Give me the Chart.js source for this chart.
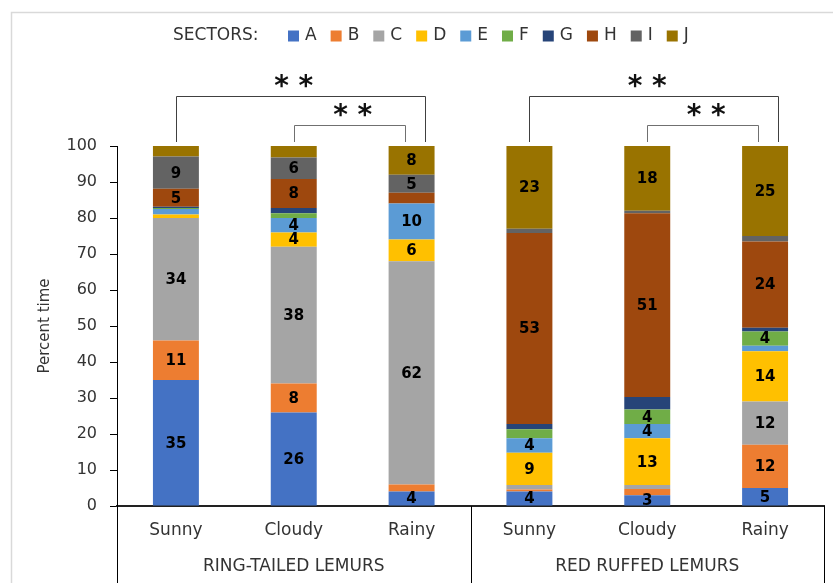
<!DOCTYPE html>
<html>
<head>
<meta charset="utf-8">
<script src="https://cdn.jsdelivr.net/npm/chart.js@4/dist/chart.umd.min.js"></script>
<style>
  html, body { margin: 0; padding: 0; background: #fff; }
  canvas { display: block; }
</style>
</head>
<body>
<canvas id="chart" width="833" height="583"></canvas>
<script>
// Weather condition for each bar, and the species group the bars belong to
const weather = ['Sunny', 'Cloudy', 'Rainy', 'Sunny', 'Cloudy', 'Rainy'];
const species = ['RING-TAILED LEMURS', 'RED RUFFED LEMURS'];
const speciesSpan = [[0, 2], [3, 5]];

// Percent of time spent in each enclosure sector (bars in the order above)
const sectorNames = ['A', 'B', 'C', 'D', 'E', 'F', 'G', 'H', 'I', 'J'];
const sectorA = [35, 26, 4, 4, 3, 5];
const sectorB = [11, 8, 2, 0.6, 1.7, 12];
const sectorC = [34, 38, 62, 1.2, 1.1, 12];
const sectorD = [1, 4, 6, 9, 13, 14];
const sectorE = [1.5, 4, 10, 4, 4, 1.5];
const sectorF = [0.3, 1.3, 0, 2.5, 4, 4];
const sectorG = [0.3, 1.5, 0, 1.5, 3.5, 1];
const sectorH = [5, 8, 3, 53, 51, 24];
const sectorI = [9, 6, 5, 1.2, 0.7, 1.5];
const sectorJ = [2.9, 3.2, 8, 23, 18, 25];

// Which segments carry a value label
const labelShown = {
  A: [1, 1, 1, 1, 1, 1],
  B: [1, 1, 0, 0, 0, 1],
  C: [1, 1, 1, 0, 0, 1],
  D: [0, 1, 1, 1, 1, 1],
  E: [0, 1, 1, 1, 1, 0],
  F: [0, 0, 0, 0, 1, 1],
  G: [0, 0, 0, 0, 0, 0],
  H: [1, 1, 0, 1, 1, 1],
  I: [1, 1, 1, 0, 0, 0],
  J: [0, 0, 1, 1, 1, 1]
};

// Y axis ticks
const yTicks = [0, 10, 20, 30, 40, 50, 60, 70, 80, 90, 100];

// Significance brackets between weather conditions
const comparisons = [
  { from: 0, to: 2, tier: 2, mark: '* *' },
  { from: 1, to: 2, tier: 1, mark: '* *' },
  { from: 3, to: 5, tier: 2, mark: '* *' },
  { from: 4, to: 5, tier: 1, mark: '* *' }
];

const sectorValues = [sectorA, sectorB, sectorC, sectorD, sectorE, sectorF, sectorG, sectorH, sectorI, sectorJ];
const sectorColors = ['#4472C4', '#ED7D31', '#A5A5A5', '#FFC000', '#5B9BD5',
                      '#70AD47', '#264478', '#9E480E', '#636363', '#997300'];

const FONT = '"DejaVu Sans", "Open Sans", sans-serif';
const TEXT = '#333333';

const frame = {
  id: 'frame',
  beforeDraw(chart) {
    const ctx = chart.ctx;
    ctx.save();
    ctx.fillStyle = '#fff';
    ctx.fillRect(0, 0, chart.width, chart.height);
    ctx.strokeStyle = '#d9d9d9';
    ctx.lineWidth = 1.5;
    ctx.beginPath();
    ctx.moveTo(11.5, chart.height);
    ctx.lineTo(11.5, 12.5);
    ctx.lineTo(chart.width, 12.5);
    ctx.stroke();
    ctx.restore();
  }
};

const valueLabels = {
  id: 'valueLabels',
  afterDatasetsDraw(chart) {
    const ctx = chart.ctx;
    ctx.save();
    ctx.font = 'bold 15px ' + FONT;
    ctx.fillStyle = '#000';
    ctx.textAlign = 'center';
    ctx.textBaseline = 'middle';
    chart.data.datasets.forEach((ds, di) => {
      const meta = chart.getDatasetMeta(di);
      meta.data.forEach((bar, i) => {
        if (!labelShown[ds.label][i]) return;
        const { x, y, base } = bar.getProps(['x', 'y', 'base'], true);
        ctx.fillText(String(ds.data[i]), x, (y + base) / 2 + 1);
      });
    });
    ctx.restore();
  }
};

const extras = {
  id: 'extras',
  afterDraw(chart) {
    const ctx = chart.ctx;
    const xs = chart.scales.x;
    const ys = chart.scales.y;
    const area = chart.chartArea;
    ctx.save();

    // Legend row
    const ly = 36;
    ctx.font = '17px ' + FONT;
    ctx.fillStyle = TEXT;
    ctx.textBaseline = 'middle';
    ctx.textAlign = 'left';
    ctx.fillText('SECTORS:', 173, ly);
    let lx = 288;
    chart.data.datasets.forEach(ds => {
      ctx.fillStyle = ds.backgroundColor;
      ctx.fillRect(lx, ly - 5.5, 11, 11);
      ctx.fillStyle = TEXT;
      ctx.fillText(ds.label, lx + 17, ly);
      lx += 17 + ctx.measureText(ds.label).width + 14;
    });

    // Group separators and species labels under the category axis
    const boundary = i => (xs.getPixelForValue(i) + xs.getPixelForValue(i + 1)) / 2;
    const edges = [area.left, boundary(2), area.right];
    ctx.strokeStyle = '#000';
    ctx.lineWidth = 1;
    edges.forEach(ex => {
      const px = Math.round(ex) + 0.5;
      ctx.beginPath();
      ctx.moveTo(px, area.bottom);
      ctx.lineTo(px, chart.height);
      ctx.stroke();
    });
    ctx.font = '17px ' + FONT;
    ctx.fillStyle = TEXT;
    ctx.textAlign = 'center';
    species.forEach((name, g) => {
      const [a, b] = speciesSpan[g];
      const left = a === 0 ? area.left : boundary(a - 1);
      const right = b === weather.length - 1 ? area.right : boundary(b);
      ctx.fillText(name, (left + right) / 2, 567);
    });

    // Significance brackets
    const topY = ys.getPixelForValue(100) - 4;
    comparisons.forEach(c => {
      const x1 = xs.getPixelForValue(c.from);
      const x2 = xs.getPixelForValue(c.to) + (c.tier === 2 ? 13 : -7);
      const lineY = c.tier === 2 ? 96.5 : 125.5;
      ctx.strokeStyle = c.tier === 2 ? '#404040' : '#707070';
      ctx.lineWidth = 1;
      ctx.beginPath();
      ctx.moveTo(Math.round(x1) + 0.5, topY);
      ctx.lineTo(Math.round(x1) + 0.5, lineY);
      ctx.lineTo(Math.round(x2) + 0.5, lineY);
      ctx.lineTo(Math.round(x2) + 0.5, topY);
      ctx.stroke();

      ctx.font = 'bold 28px ' + FONT;
      ctx.fillStyle = '#111';
      ctx.textAlign = 'center';
      ctx.textBaseline = 'alphabetic';
      const m = ctx.measureText(c.mark);
      const cy = lineY - 15.5;
      const baseY = cy + (m.actualBoundingBoxAscent - m.actualBoundingBoxDescent) / 2;
      const cx = (xs.getPixelForValue(c.from) + xs.getPixelForValue(c.to)) / 2;
      ctx.fillText(c.mark, cx, baseY);
    });

    ctx.restore();
  }
};

new Chart(document.getElementById('chart'), {
  type: 'bar',
  data: {
    labels: weather,
    datasets: sectorNames.map((name, k) => ({
      label: name,
      data: sectorValues[k],
      backgroundColor: sectorColors[k],
      borderWidth: 0,
      barPercentage: 0.39,
      categoryPercentage: 1.0
    }))
  },
  options: {
    responsive: false,
    animation: false,
    devicePixelRatio: 1,
    layout: { padding: { top: 146, right: 9, bottom: 0, left: 0 } },
    plugins: {
      legend: { display: false },
      tooltip: { enabled: false },
      title: { display: false }
    },
    scales: {
      x: {
        stacked: true,
        grid: { display: false, drawTicks: false },
        border: { display: true, color: '#222', width: 2 },
        ticks: { color: TEXT, font: { family: FONT, size: 17 }, padding: 14, maxRotation: 0 },
        afterFit(scale) { scale.height = 77; }
      },
      y: {
        stacked: true,
        min: 0,
        max: 100,
        afterBuildTicks(scale) { scale.ticks = yTicks.map(v => ({ value: v })); },
        grid: { display: true, drawOnChartArea: false, drawTicks: true, tickLength: 7, color: '#000' },
        border: { display: true, color: '#000', width: 1 },
        ticks: { color: TEXT, font: { family: FONT, size: 16 }, padding: 13 },
        title: {
          display: true,
          text: 'Percent time',
          color: TEXT,
          font: { family: FONT, size: 15 },
          padding: { top: 36, bottom: 0 }
        },
        afterFit(scale) { scale.width = 117; }
      }
    }
  },
  plugins: [frame, valueLabels, extras]
});
</script>
</body>
</html>
